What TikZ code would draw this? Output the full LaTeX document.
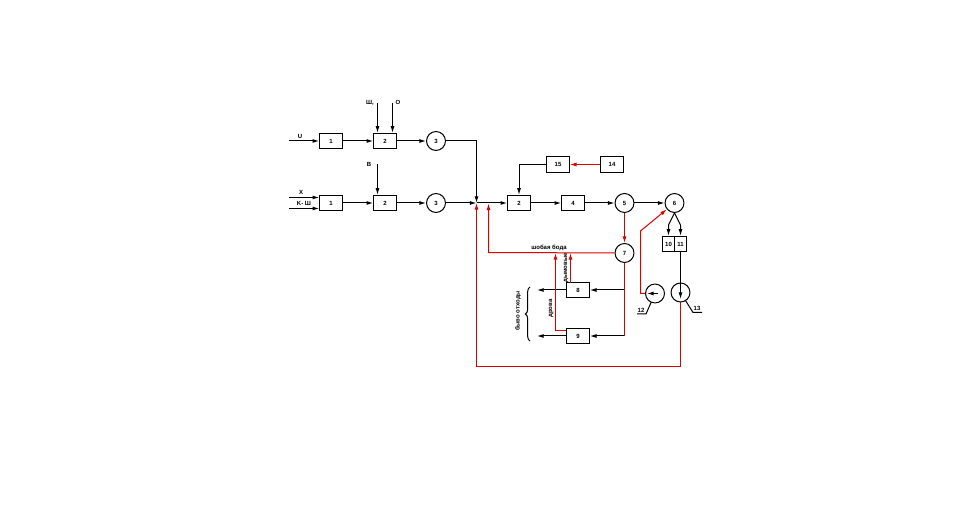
\documentclass[tikz,border=0pt]{standalone}
\usepackage{fontspec}
\setmainfont{Liberation Sans}
\usetikzlibrary{arrows.meta,positioning,decorations.pathreplacing}
\definecolor{redline}{RGB}{220,0,0}
\tikzset{
  block/.style={draw, line width=0.75pt, minimum width=17pt, minimum height=11.5pt, inner sep=0pt, font=\fontsize{4.5}{5}\selectfont\bfseries, fill=white},
  smallblock/.style={block, minimum width=9pt},
  junction/.style={draw, circle, line width=0.75pt, minimum size=14.2pt, inner sep=0pt, font=\fontsize{4.5}{5}\selectfont\bfseries, fill=white},
  txt/.style={inner sep=0pt, font=\fontsize{4.5}{5}\selectfont\bfseries},
  flow/.style={line width=0.75pt, -{Latex[length=5pt,width=3pt]}},
  plain/.style={line width=0.75pt},
  redflow/.style={flow, redline},
  redplain/.style={plain, redline},
}
\begin{document}
\begin{tikzpicture}[x=0.75pt,y=-0.75pt]
  \useasboundingbox (0,0) rectangle (955,523);
  % top row
  \node[block] (a1) at (331,141) {1};
  \node[block] (a2) at (385,141) {2};
  \node[junction] (a3) at (436,141) {3};
  % second row
  \node[block] (b1) at (331,203) {1};
  \node[block] (b2) at (385,203) {2};
  \node[junction] (b3) at (436,203) {3};
  \node[block] (c2) at (519,203) {2};
  \node[block] (c4) at (573,203) {4};
  \node[junction] (c5) at (624.5,203) {5};
  \node[junction] (c6) at (674.5,203) {6};
  \node[block] (d15) at (558,164.5) {15};
  \node[block] (d14) at (612,164.5) {14};
  \node[smallblock] (e10) at (668.5,244) {10};
  \node[smallblock] (e11) at (680.5,244) {11};
  \node[junction] (e7) at (624.5,253) {7};
  \node[block] (f8) at (578,290) {8};
  \node[block] (f9) at (578,336) {9};
  \coordinate (g12) at (655,293.5);
  \coordinate (g13) at (680.5,292.5);
  % free ends
  \coordinate (u0) at (289,141);
  \coordinate (ul0) at (377.5,103);
  \coordinate (o0) at (392.5,103);
  \coordinate (v0) at (377.5,164);
  \coordinate (x0) at (289,197.5);
  \coordinate (k0) at (289,208.5);
  \coordinate (mix) at (476.5,203);
  \coordinate (mix2) at (488.5,203.5);
  \coordinate (top) at (476.5,141);
  \coordinate (out8) at (537,290);
  \coordinate (out9) at (537,336);
  \coordinate (in8) at (624.5,290);
  \coordinate (in9) at (624.5,336);
  \coordinate (up8) at (570.5,283);
  \coordinate (up8t) at (570.5,253);
  \coordinate (low9) at (566,331);
  \coordinate (kink9) at (555.5,331);
  \coordinate (up9t) at (555.5,253);
  \coordinate (kink7) at (488.5,252.5);
  \coordinate (kink12a) at (640.5,293.5);
  \coordinate (kink12b) at (640.5,231);
  \coordinate (fan10) at (668.5,225);
  \coordinate (fan11) at (680.5,225);
  \coordinate (low13) at (680.5,366);
  \coordinate (low13b) at (476.5,366);
  \coordinate (lead12a) at (646,314);
  \coordinate (lead12b) at (637,314);
  \coordinate (lead13a) at (693,312.5);
  \coordinate (lead13b) at (702,312.5);
  \coordinate (g12r) at (658,293.5);
  \coordinate (g12l) at (647,293.5);
  \coordinate (g13b) at (680.5,299);
  % labels
  \node[txt] (lu) at (300,136) {U};
  \node[txt] (lul) at (370,103) {Ш,};
  \node[txt] (lo) at (398,102) {O};
  \node[txt] (lv) at (369,164) {B};
  \node[txt] (lx) at (301,192) {X};
  \node[txt] (lk) at (304,203) {K- Ш};
  \node[txt] (lw) at (549,247.5) {шобая бода};
  \node[txt,rotate=90] (lr) at (566,268) {дымовые};
  \node[txt,rotate=90] (lg) at (551,308.5) {дрова};
  \node[txt,rotate=90] (lb) at (518,311) {быво отходы};
  \node[txt] (l12) at (641,310) {12};
  \node[txt] (l13) at (697,308) {13};
  % black connectors
  \draw[flow] (u0) -- (a1);
  \draw[flow] (a1) -- (a2);
  \draw[flow] (a2) -- (a3);
  \draw[flow] (ul0) -- (ul0 |- a2.north);
  \draw[flow] (o0) -- (o0 |- a2.north);
  \draw[flow] (v0) -- (v0 |- b2.north);
  \draw[flow] (x0) -- (x0 -| b1.west);
  \draw[flow] (k0) -- (k0 -| b1.west);
  \draw[flow] (b1) -- (b2);
  \draw[flow] (b2) -- (b3);
  \draw[flow] (b3) -- (mix);
  \draw[flow] (a3) -- (top) -- (mix);
  \draw[flow] (mix) -- (c2);
  \draw[flow] (c2) -- (c4);
  \draw[flow] (c4) -- (c5);
  \draw[flow] (c5) -- (c6);
  \draw[flow] (d15) -| (c2);
  \draw[flow] (c6.south) -- (fan10) -- (e10.north -| fan10);
  \draw[flow] (c6.south) -- (fan11) -- (e11.north -| fan11);
  \draw[plain] (e11) -- (g13);
  \draw[flow] (in8) -- (f8);
  \draw[flow] (in9) -- (f9);
  \draw[flow] (f8) -- (out8);
  \draw[flow] (f9) -- (out9);
  % red connectors
  \draw[redflow] (d14) -- (d15);
  \draw[redflow] (c5) -- (e7);
  \draw[redplain] (e7) -- (in9);
  \draw[redflow] (e7) -- (kink7) -- (mix2);
  \draw[redflow] (up8) -- (up8t);
  \draw[redflow] (low9) -- (kink9) -- (up9t);
  \draw[redflow] (g12) -- (kink12a) -- (kink12b) -- (c6);
  \draw[redflow] (g13) -- (low13) -- (low13b) -- (mix);
  % leaders
  \draw[plain] (g12) -- (lead12a) -- (lead12b);
  \draw[plain] (g13) -- (lead13a) -- (lead13b);
  % brace
  \draw[plain, decorate, decoration={brace,amplitude=3.5pt}] (530,341) -- (530,287);
  % symbols on top of the lines
  \node[junction] (n12) at (g12) {};
  \node[junction] (n13) at (g13) {};
  \draw[flow] (n13.north) -- (g13b);
  \draw[flow] (g12r) -- (g12l);
\end{tikzpicture}
\end{document}
